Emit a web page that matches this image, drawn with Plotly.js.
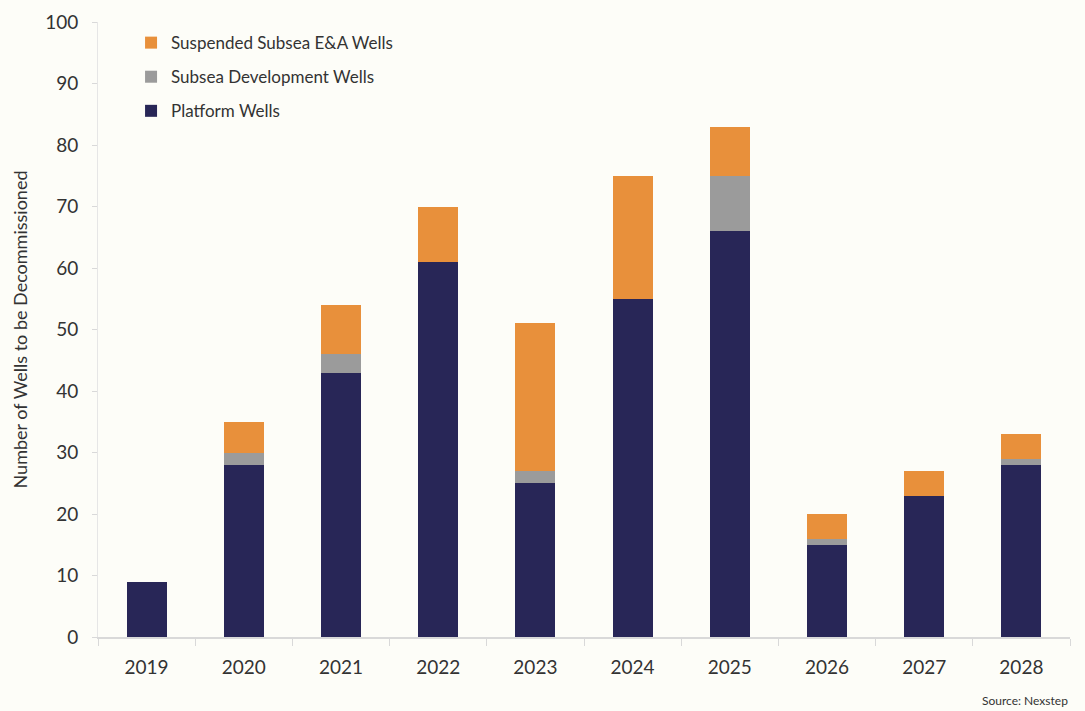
<!DOCTYPE html>
<html>
<head>
<meta charset="utf-8">
<script src="https://cdn.plot.ly/plotly-3.0.1.min.js"></script>
<style>html,body{margin:0;padding:0;background:#fdfdf8;}</style>
</head>
<body>
<div id="chart" style="width:1085px;height:711px;"></div>
<script>
const years = ["2019","2020","2021","2022","2023","2024","2025","2026","2027","2028"];
const platformWells = [9, 28, 43, 61, 25, 55, 66, 15, 23, 28];
const subseaDevWells = [0, 2, 3, 0, 2, 0, 9, 1, 0, 1];
const suspendedEAWells = [0, 5, 8, 9, 24, 20, 8, 4, 4, 4];

const font = "Lato, 'Open Sans', sans-serif";
const traces = [
  {name: "Platform Wells", legendgroup: "c", legendrank: 3, x: years, y: platformWells, type: "bar", marker: {color: "#282657"}},
  {name: "Subsea Development Wells", legendgroup: "b", legendrank: 2, x: years, y: subseaDevWells, type: "bar", marker: {color: "#9b9b9b"}},
  {name: "Suspended Subsea E&A Wells", legendgroup: "a", legendrank: 1, x: years, y: suspendedEAWells, type: "bar", marker: {color: "#e8903b"}}
];
const layout = {
  width: 1085, height: 711,
  barmode: "stack", bargap: 0.59,
  paper_bgcolor: "#fdfdf8", plot_bgcolor: "#fdfdf8",
  margin: {l: 98, r: 15, t: 22, b: 74},
  font: {family: font, color: "#333333", size: 18},
  showlegend: true,
  legend: {x: 0.034, y: 0.995, xanchor: "left", yanchor: "top", traceorder: "grouped",
           font: {size: 17, color: "#333333"}, bgcolor: "rgba(0,0,0,0)", tracegroupgap: 9, itemwidth: 30},
  xaxis: {type: "category", showline: true, linecolor: "#d9d9d9", linewidth: 1.5,
          ticks: "outside", tickson: "boundaries", ticklen: 7, tickcolor: "#d9d9d9",
          ticklabelstandoff: 12,
          tickfont: {size: 19, color: "#333333"}, showgrid: false},
  yaxis: {range: [0, 100], dtick: 10, showline: true, linecolor: "#e6e6e6", linewidth: 1,
          ticks: "outside", ticklen: 5, tickcolor: "#d9d9d9", showgrid: false, zeroline: false,
          ticklabelstandoff: 10,
          tickfont: {size: 19, color: "#333333"},
          title: {text: "Number of Wells to be Decommissioned", font: {size: 18, color: "#333333"}, standoff: 12}},
  annotations: [{text: "Source: Nexstep", xref: "paper", yref: "paper", x: 1.0, y: -0.087,
                 xanchor: "right", yanchor: "top", showarrow: false, font: {size: 12, color: "#333333"}}]
};
Plotly.newPlot("chart", traces, layout, {displayModeBar: false});
</script>
</body>
</html>
